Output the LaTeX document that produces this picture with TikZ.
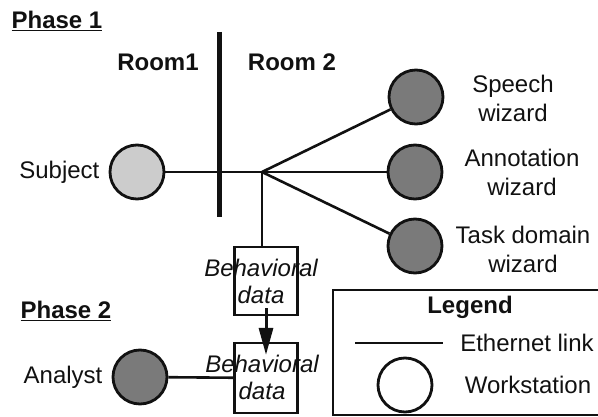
\documentclass[tikz,border=0pt]{standalone}
\usepackage{fontspec}
\setmainfont{Liberation Sans}
\usepackage{xcolor}
\usetikzlibrary{arrows.meta,positioning}
\definecolor{ink}{HTML}{111111}
\definecolor{lightdot}{HTML}{CCCCCC}
\definecolor{darkdot}{HTML}{7A7A7A}
\tikzset{
  font=\fontsize{24}{29}\selectfont,
  txt/.style={text=ink, align=center, inner sep=1pt},
  head/.style={txt, font=\fontsize{24}{29}\selectfont\bfseries},
  station/.style={
    circle, draw=ink, line width=2.8pt, minimum size=54pt, inner sep=0pt
  },
  subjstation/.style={station, fill=lightdot},
  wizstation/.style={station, fill=darkdot},
  databox/.style={draw=ink, line width=2.2pt, fill=white, minimum width=63pt,
    minimum height=68pt, inner sep=0pt},
  datatext/.style={txt, font=\fontsize{24}{27}\selectfont\itshape},
  link/.style={draw=ink, line width=2.6pt},
  wall/.style={draw=ink, line width=5pt},
  bigarrow/.style={-{Triangle[length=27pt,width=14pt]}, draw=ink, line width=3pt},
  legendbox/.style={draw=ink, line width=2.4pt}
}

\begin{document}
\begin{tikzpicture}[x=1pt,y=-1pt]
  \useasboundingbox (0,0) rectangle (598,417);

  % phase 1
  \node[head] (phaseA) at (57,21) {\underline{Phase 1}};
  \node[head] (roomA) at (158,62) {Room1};
  \node[head] (roomB) at (292,62) {Room 2};
  \coordinate (wallTop) at (219,32);
  \coordinate (wallBot) at (219,217);
  \draw[wall] (wallTop) -- (wallBot);

  \node[subjstation] (subj) at (137,172) {};
  \node[txt, left=8pt of subj] (subjL) {Subject};
  \coordinate (hub) at (262,172);

  \node[wizstation] (speech) at (416,97) {};
  \node[wizstation] (annot)  at (415,172) {};
  \node[wizstation] (task)   at (415,246) {};
  \node[txt] (speechL) at (513,98)  {Speech\\wizard};
  \node[txt] (annotL)  at (522,172) {Annotation\\wizard};
  \node[txt] (taskL)   at (523,249) {Task domain\\wizard};

  % data
  \node[databox] (dataA) at (266,281) {};
  \node[datatext] at ([xshift=-5pt]dataA) {Behavioral\\data};
  \node[databox, minimum height=70pt] (dataB) at (266,378) {};
  \node[datatext] at ([xshift=-4pt,yshift=1pt]dataB) {Behavioral\\data};

  % phase 2
  \node[head] (phaseB) at (66,311) {\underline{Phase 2}};
  \node[wizstation] (analyst) at (140,377) {};
  \node[txt, left=8pt of analyst] (analystL) {Analyst};

  % links
  \draw[link] (subj) -- (hub);
  \draw[link] (hub) -- (speech);
  \draw[link] (hub) -- (annot);
  \draw[link] (hub) -- (task);
  \draw[link] (hub) -- (hub |- dataA.north);
  \draw[link] (analyst) -- (dataB);
  \draw[bigarrow] ([yshift=8pt]dataA.south) -- ([yshift=-13pt]dataB.north);

  % legend
  \coordinate (legNE) at (599,290);
  \coordinate (legSE) at (599,415);
  \draw[legendbox] (legNE) -| (333,415) -- (legSE);
  \node[head] (legT) at (470,307) {Legend};
  \coordinate (legA) at (355,343);
  \coordinate (legB) at (443,343);
  \draw[link] (legA) -- (legB);
  \node[txt] (legLinkL) at (527,343) {Ethernet link};
  \node[station] (legWs) at (405,385) {};
  \node[txt] (legWsL) at (528,385) {Workstation};
\end{tikzpicture}
\end{document}
